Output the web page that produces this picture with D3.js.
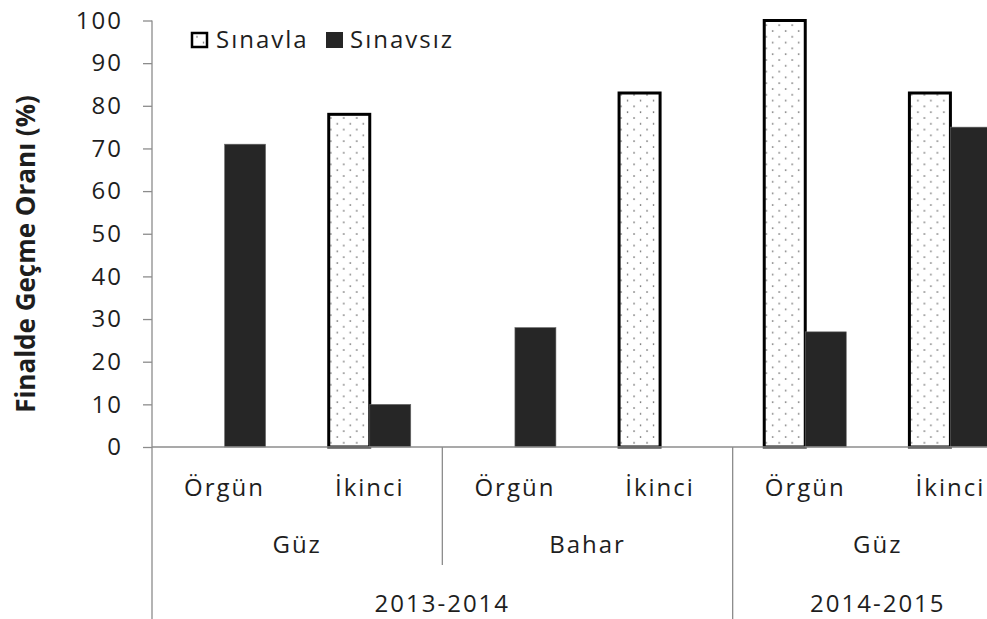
<!DOCTYPE html>
<html>
<head>
<meta charset="utf-8">
<script src="https://cdn.jsdelivr.net/npm/d3@7/dist/d3.min.js"></script>
<style>
  html, body { margin: 0; padding: 0; background: #fff; overflow: hidden; }
  text { font-family: "Open Sans", sans-serif; fill: #1e1e1e; }
</style>
</head>
<body>
<div id="chart"></div>
<script>
// categories (inner level), seasons, years
const categories = ["Örgün", "İkinci", "Örgün", "İkinci", "Örgün", "İkinci"];
const seasons = [
  { label: "Güz", from: 0, to: 2 },
  { label: "Bahar", from: 2, to: 4 },
  { label: "Güz", from: 4, to: 6 }
];
const years = [
  { label: "2013-2014", from: 0, to: 4 },
  { label: "2014-2015", from: 4, to: 6 }
];
const seriesNames = ["Sınavla", "Sınavsız"];
const sinavla = [null, 78, null, 83, 100, 83];
const sinavsiz = [71, 10, 28, null, 27, 75];
const yTicks = [0, 10, 20, 30, 40, 50, 60, 70, 80, 90, 100];

const width = 987, height = 619;
const plotLeft = 152, plotRight = 1023, plotTop = 20.5, plotBottom = 447;

const svg = d3.select("#chart").append("svg")
  .attr("width", width)
  .attr("height", height);

// dotted fill like the excel pattern
const defs = svg.append("defs");
const pat = defs.append("pattern")
  .attr("id", "dots")
  .attr("patternUnits", "userSpaceOnUse")
  .attr("width", 13)
  .attr("height", 11.6);
pat.append("rect").attr("width", 13).attr("height", 11.6).attr("fill", "#fff");
pat.append("circle").attr("cx", 2).attr("cy", 2).attr("r", 0.8).attr("fill", "#555");
pat.append("circle").attr("cx", 8.5).attr("cy", 7.8).attr("r", 0.8).attr("fill", "#555");

const x0 = d3.scaleBand()
  .domain(d3.range(categories.length))
  .range([plotLeft, plotRight])
  .paddingInner(0.435)
  .paddingOuter(0.2175);

const x1 = d3.scaleBand()
  .domain(seriesNames)
  .range([0, x0.bandwidth()]);

const y = d3.scaleLinear()
  .domain([0, 100])
  .range([plotBottom, plotTop]);

const step = x0.step();
const edge = i => plotLeft + i * step;

// y axis
const yAxis = svg.append("g")
  .attr("transform", `translate(${plotLeft},0)`)
  .call(d3.axisLeft(y).tickValues(yTicks).tickSize(9).tickPadding(20));
yAxis.select(".domain").remove();
yAxis.selectAll(".tick line").attr("stroke", "#8c8c8c").attr("stroke-width", 1.3);
yAxis.selectAll(".tick text")
  .attr("fill", "#1e1e1e")
  .style("font-size", "24px")
  .style("letter-spacing", "2px")
  .style("font-family", "'Open Sans', sans-serif");

// bars
const rows = categories.map((c, i) => ({ i, vals: [sinavla[i], sinavsiz[i]] }));
const groups = svg.append("g").selectAll("g")
  .data(rows).join("g")
  .attr("transform", d => `translate(${x0(d.i)},0)`);

groups.selectAll("rect")
  .data(d => d.vals.map((v, k) => ({ key: seriesNames[k], v })).filter(e => e.v != null))
  .join("rect")
  .attr("x", d => x1(d.key))
  .attr("y", d => y(d.v))
  .attr("width", x1.bandwidth())
  .attr("height", d => y(0) - y(d.v))
  .attr("fill", d => d.key === "Sınavla" ? "url(#dots)" : "#262626")
  .attr("stroke", d => d.key === "Sınavla" ? "#000" : "#6a6a6a")
  .attr("stroke-width", d => d.key === "Sınavla" ? 3 : 0.6);

// axis lines
const axisCol = "#8c8c8c";
svg.append("line")
  .attr("x1", plotLeft).attr("x2", plotRight)
  .attr("y1", y(0)).attr("y2", y(0))
  .attr("stroke", axisCol).attr("stroke-width", 1.3);
svg.append("line")
  .attr("x1", plotLeft).attr("x2", plotLeft)
  .attr("y1", plotTop).attr("y2", height)
  .attr("stroke", axisCol).attr("stroke-width", 1.3);

// separators between season groups and between years
seasons.slice(1).forEach(s => {
  const isYear = years.some(yr => yr.from === s.from);
  svg.append("line")
    .attr("x1", edge(s.from)).attr("x2", edge(s.from))
    .attr("y1", y(0)).attr("y2", isYear ? height : 565)
    .attr("stroke", axisCol).attr("stroke-width", 1.3);
});

// category labels
const lab = (txt, xPos, yPos) => svg.append("text")
  .attr("x", xPos).attr("y", yPos)
  .attr("text-anchor", "middle")
  .style("font-size", "24px")
  .style("letter-spacing", "2px")
  .text(txt);

categories.forEach((c, i) => lab(c, x0(i) + x0.bandwidth() / 2, 496));
seasons.forEach(s => lab(s.label, (edge(s.from) + edge(s.to)) / 2, 553));
years.forEach(yr => lab(yr.label, (edge(yr.from) + edge(yr.to)) / 2, 612));

// y title
svg.append("text")
  .attr("transform", "translate(35,254) rotate(-90)")
  .attr("text-anchor", "middle")
  .style("font-size", "26px")
  .style("font-weight", "bold")
  .text("Finalde Geçme Oranı (%)");

// legend
const legend = svg.append("g");
legend.append("rect")
  .attr("x", 192).attr("y", 33).attr("width", 15).attr("height", 14)
  .attr("fill", "url(#dots)").attr("stroke", "#000").attr("stroke-width", 2.5);
legend.append("text")
  .attr("x", 216).attr("y", 48)
  .style("font-size", "24px").style("letter-spacing", "2px")
  .text(seriesNames[0]);
legend.append("rect")
  .attr("x", 326).attr("y", 32).attr("width", 17).attr("height", 16)
  .attr("fill", "#262626");
legend.append("text")
  .attr("x", 350).attr("y", 48)
  .style("font-size", "24px").style("letter-spacing", "2px")
  .text(seriesNames[1]);
</script>
</body>
</html>
